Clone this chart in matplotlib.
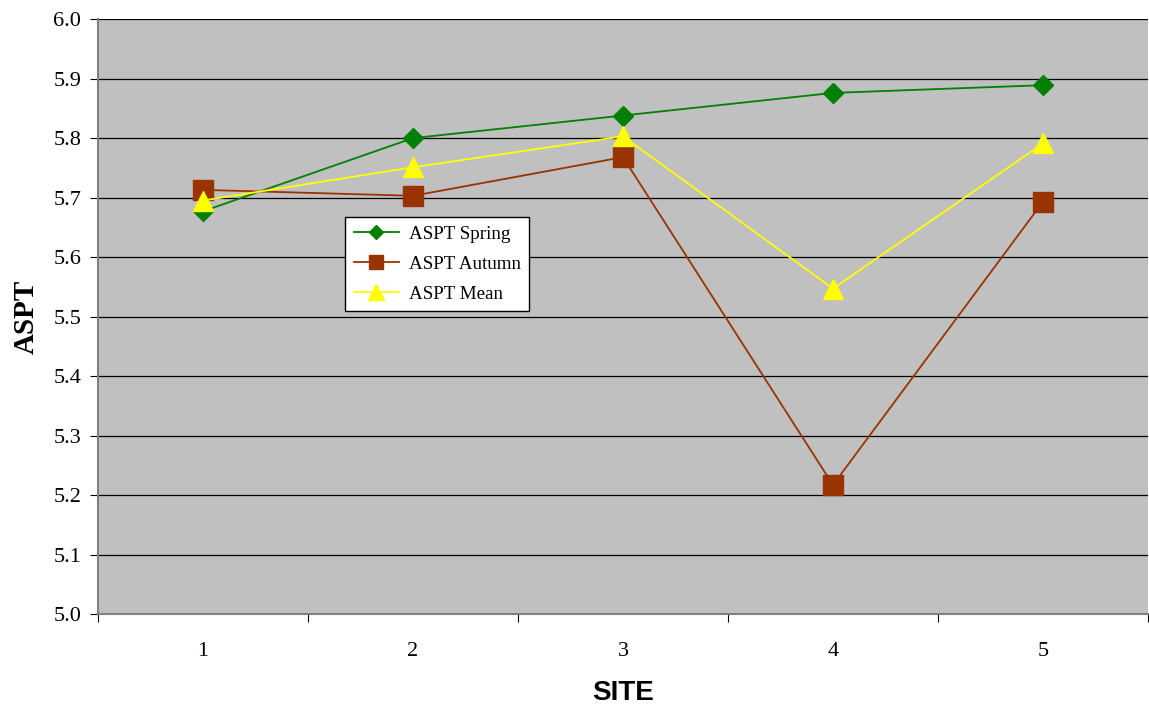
import numpy as np
import matplotlib.pyplot as plt
from matplotlib.ticker import FixedLocator, NullFormatter, FixedFormatter

sites = [1, 2, 3, 4, 5]
spring = [5.677, 5.800, 5.838, 5.876, 5.889]
autumn = [5.713, 5.703, 5.768, 5.217, 5.693]
mean = [5.695, 5.751, 5.803, 5.547, 5.791]
y_ticks = [5.0, 5.1, 5.2, 5.3, 5.4, 5.5, 5.6, 5.7, 5.8, 5.9, 6.0]

fig = plt.figure(figsize=(11.49, 7.09), dpi=100)
ax = fig.add_axes([0.0853, 0.134, 0.9138, 0.839])
ax.set_facecolor('#C0C0C0')

ax.plot(sites, spring, '-D', color='#008000', lw=1.3, ms=10, label='ASPT Spring', zorder=3)
ax.plot(sites, autumn, '-s', color='#993300', lw=1.3, ms=14, label='ASPT Autumn', zorder=3)
ax.plot(sites, mean, '-^', color='#FFFF00', lw=1.3, ms=15, label='ASPT Mean', zorder=3)

ax.set_xlim(0.5, 5.5)
ax.set_ylim(5.0, 6.0)

# category axis: ticks between categories, labels at the centres
ax.xaxis.set_major_locator(FixedLocator([0.5, 1.5, 2.5, 3.5, 4.5, 5.5]))
ax.xaxis.set_major_formatter(NullFormatter())
ax.xaxis.set_minor_locator(FixedLocator(sites))
ax.xaxis.set_minor_formatter(FixedFormatter([str(s) for s in sites]))
ax.tick_params(axis='x', which='major', length=6, direction='out', color='black')
ax.tick_params(axis='x', which='minor', length=0, pad=20)

ax.set_yticks(y_ticks)
ax.set_yticklabels([f'{v:.1f}' for v in y_ticks])
ax.tick_params(axis='y', length=6, direction='out', color='black', pad=6)
for lbl in ax.get_xticklabels(minor=True) + ax.get_yticklabels():
    lbl.set_fontfamily('Liberation Serif')
    lbl.set_fontsize(16)

ax.grid(axis='y', color='black', lw=0.9)
ax.set_axisbelow(True)
for s in ['top', 'right']:
    ax.spines[s].set_visible(False)
for s in ['left', 'bottom']:
    ax.spines[s].set_color('#808080')
    ax.spines[s].set_linewidth(1.5)

ax.set_xlabel('SITE', fontfamily='Liberation Sans', fontweight='bold', fontsize=20, labelpad=14)
ax.set_ylabel('ASPT', fontfamily='Liberation Serif', fontweight='bold', fontsize=21, labelpad=10)

leg = ax.legend(loc='upper left', bbox_to_anchor=(0.2352, 0.667), fancybox=False,
                framealpha=1, edgecolor='black', prop={'family': 'Liberation Serif', 'size': 13.7},
                handlelength=2.4, borderpad=0.45, labelspacing=0.66, markerscale=0.75,
                handletextpad=0.5, borderaxespad=0)
leg.get_frame().set_linewidth(1.0)

fig.savefig('out.png', dpi=100)
